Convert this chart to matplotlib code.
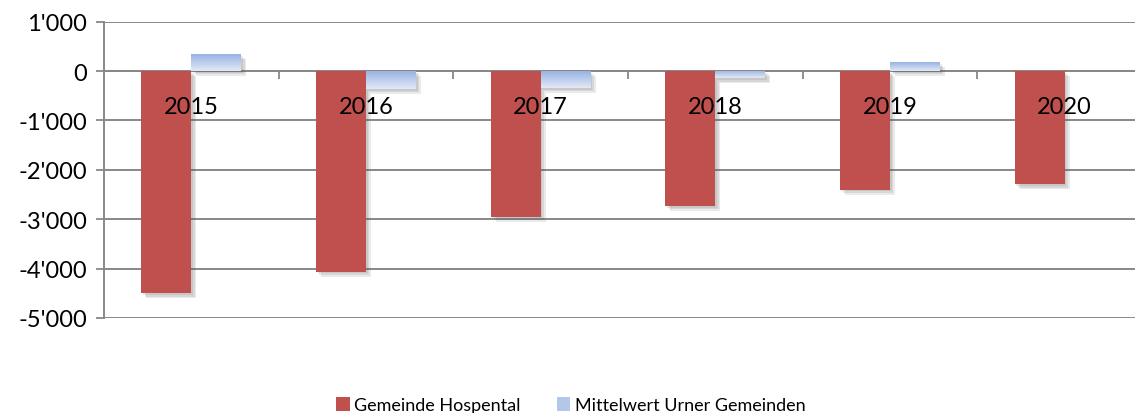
import numpy as np
import matplotlib
matplotlib.use('Agg')
import matplotlib.pyplot as plt
import matplotlib.patheffects as pe
from matplotlib.colors import LinearSegmentedColormap
from matplotlib.ticker import FuncFormatter, FixedLocator
from matplotlib.patches import Patch

# data
years = ['2015', '2016', '2017', '2018', '2019', '2020']
hospental = [-4500, -4060, -2950, -2730, -2400, -2290]
urner_mittel = [340, -360, -340, -150, 180, 0]
series_names = ['Gemeinde Hospental', 'Mittelwert Urner Gemeinden']

plt.rcParams['font.family'] = ['Lato', 'DejaVu Sans']

red = '#C0504D'
blue_top = '#98B3E3'
blue_bot = '#E2E9F6'
grid_col = '#888888'

fig = plt.figure(figsize=(11.35, 4.14), dpi=100)
ax = fig.add_axes([104 / 1135, 1 - 319 / 414, 1048 / 1135, (319 - 22.7) / 414])

x = np.arange(len(years))
w = 0.286

shadow = [pe.SimplePatchShadow(offset=(o, -o), shadow_rgbFace='#555555', alpha=0.12)
          for o in (1.2, 2.4, 3.6)] + [pe.Normal()]

b1 = ax.bar(x - w / 2, hospental, w, color=red, zorder=3, linewidth=0)
b2 = ax.bar(x + w / 2, urner_mittel, w, color='#BCCDEC', zorder=3, linewidth=0)
for b in list(b1) + list(b2):
    if b.get_height() != 0:
        b.set_path_effects(shadow)

# gradient fill for the blue bars (darker at top)
cmap = LinearSegmentedColormap.from_list('bl', [blue_top, blue_bot])
grad = np.linspace(0, 1, 64).reshape(-1, 1)
for b in b2:
    h = b.get_height()
    if h == 0:
        continue
    x0, y0 = b.get_xy()
    ylo, yhi = min(y0, y0 + h), max(y0, y0 + h)
    im = ax.imshow(grad, cmap=cmap, extent=(x0, x0 + b.get_width(), ylo, yhi),
                   aspect='auto', origin='upper', zorder=4)
    im.set_clip_path(b)

# category labels sit inside the plot just under the zero line
for xi, yr in zip(x, years):
    ax.text(xi, -720, yr, ha='center', va='center', fontsize=17, zorder=6)

ax.set_xlim(-0.5, 5.5)
ax.set_ylim(-5000, 1000)
ax.set_yticks(np.arange(-5000, 1001, 1000))
ax.yaxis.set_major_formatter(FuncFormatter(
    lambda v, p: ('-' if v < 0 else '') + f'{abs(int(v)):,}'.replace(',', "'")))
ax.tick_params(axis='y', labelsize=17, length=6, width=1.3, color=grid_col, pad=6)
ax.yaxis.grid(True, color=grid_col, linewidth=1.4, zorder=0)
ax.set_axisbelow(True)

ax.set_xticks([])
ax.xaxis.set_minor_locator(FixedLocator(np.arange(0.5, 5.6, 1)))
ax.tick_params(axis='x', which='minor', length=6, width=1.3, color=grid_col, direction='out')
ax.tick_params(axis='x', which='major', length=0)

ax.spines['top'].set_visible(False)
ax.spines['right'].set_visible(False)
ax.spines['bottom'].set_position(('data', 0))
ax.spines['bottom'].set_color(grid_col)
ax.spines['bottom'].set_linewidth(1.4)
ax.spines['left'].set_color(grid_col)
ax.spines['left'].set_linewidth(1.4)

handles = [Patch(facecolor=red, label=series_names[0]),
           Patch(facecolor='#B3C7EB', label=series_names[1])]
fig.legend(handles=handles, loc='lower center', bbox_to_anchor=(0.503, -0.04), ncol=2,
           frameon=False, fontsize=13, handlelength=0.75, handleheight=0.75,
           handletextpad=0.25, columnspacing=2.0)

fig.savefig('out.png', dpi=100)
